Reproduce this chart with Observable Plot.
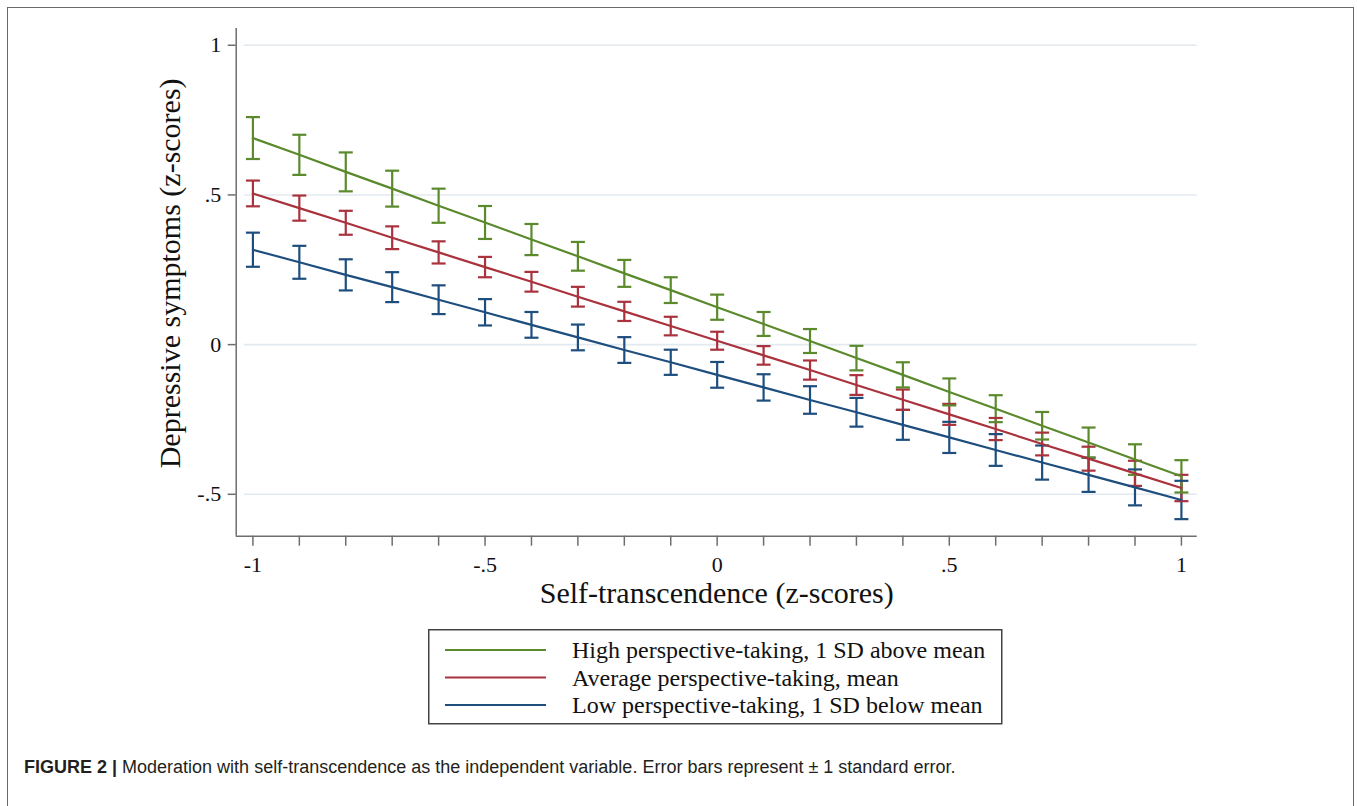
<!DOCTYPE html>
<html>
<head>
<meta charset="utf-8">
<script src="https://cdn.jsdelivr.net/npm/d3@7"></script>
<script src="https://cdn.jsdelivr.net/npm/@observablehq/plot@0.6"></script>
<style>
  html, body { margin: 0; padding: 0; background: #fff; width: 1357px; height: 806px; overflow: hidden; }
  #frame { position: absolute; left: 7px; top: 7px; width: 1347px; height: 900px; border: 1.5px solid #6a6a6a; box-sizing: border-box; }
  #chart { position: absolute; left: 0; top: 0; }
  #legend { position: absolute; left: 428px; top: 629px; }
  #caption { position: absolute; left: 24px; top: 757px; font-family: "Liberation Sans", Arial, sans-serif; font-size: 18px; line-height: 21px; color: #231f20; white-space: nowrap; }
  #caption b { font-weight: bold; }
</style>
</head>
<body>
<div id="frame"></div>
<div id="chart"></div>
<div id="legend"></div>
<div id="caption"><b>FIGURE 2 |</b> Moderation with self-transcendence as the independent variable. Error bars represent ± 1 standard error.</div>
<script>
// ---- data ----
const xValues = [-1, -0.9, -0.8, -0.7, -0.6, -0.5, -0.4, -0.3, -0.2, -0.1, 0, 0.1, 0.2, 0.3, 0.4, 0.5, 0.6, 0.7, 0.8, 0.9, 1];

const seriesNames = [
  "High perspective-taking, 1 SD above mean",
  "Average perspective-taking, mean",
  "Low perspective-taking, 1 SD below mean"
];
const seriesColors = ["#5b8a2d", "#a9323d", "#1e4e7e"];

const highMean = [0.690, 0.634, 0.577, 0.521, 0.464, 0.408, 0.351, 0.295, 0.238, 0.182, 0.125, 0.069, 0.012, -0.045, -0.101, -0.158, -0.214, -0.271, -0.327, -0.384, -0.440];
const highSE   = [0.070, 0.067, 0.065, 0.060, 0.057, 0.055, 0.052, 0.048, 0.045, 0.043, 0.042, 0.040, 0.040, 0.041, 0.042, 0.045, 0.045, 0.046, 0.050, 0.051, 0.054];

const avgMean  = [0.505, 0.456, 0.407, 0.357, 0.308, 0.259, 0.210, 0.160, 0.111, 0.062, 0.013, -0.036, -0.085, -0.135, -0.184, -0.233, -0.282, -0.332, -0.381, -0.430, -0.479];
const avgSE    = [0.043, 0.042, 0.040, 0.038, 0.037, 0.034, 0.033, 0.033, 0.032, 0.031, 0.030, 0.031, 0.032, 0.033, 0.034, 0.035, 0.037, 0.038, 0.040, 0.042, 0.044];

const lowMean  = [0.317, 0.275, 0.233, 0.192, 0.150, 0.108, 0.066, 0.024, -0.018, -0.059, -0.101, -0.143, -0.185, -0.226, -0.268, -0.310, -0.352, -0.394, -0.435, -0.477, -0.519];
const lowSE    = [0.057, 0.055, 0.052, 0.050, 0.048, 0.044, 0.043, 0.043, 0.043, 0.042, 0.043, 0.044, 0.046, 0.048, 0.050, 0.052, 0.053, 0.057, 0.057, 0.060, 0.064];

const yTicks = [1, 0.5, 0, -0.5];
const yTickLabels = ["1", ".5", "0", "-.5"];
const xMajorTicks = [-1, -0.5, 0, 0.5, 1];
const xMajorLabels = ["-1", "-.5", "0", ".5", "1"];
const xDomain = [-1.036, 1.034];
const yDomain = [-0.640, 1.056];

const xTitle = "Self-transcendence (z-scores)";
const yTitle = "Depressive symptoms (z-scores)";

// ---- build table ----
const means = [highMean, avgMean, lowMean];
const ses = [highSE, avgSE, lowSE];
const table = [];
seriesNames.forEach((s, k) => {
  xValues.forEach((x, i) => table.push({series: s, x, y: means[k][i], se: ses[k][i]}));
});
const drawOrder = [...table].reverse();

const capSymbol = {
  draw(context, size) {
    const r = Math.sqrt(size / Math.PI);
    context.moveTo(-r, 0);
    context.lineTo(r, 0);
  }
};

const serif = "'Liberation Serif', 'Times New Roman', serif";
const axisGray = "#6e6e6e";

const chart = Plot.plot({
  width: 1357,
  height: 620,
  marginLeft: 235.7,
  marginRight: 160.3,
  marginTop: 28,
  marginBottom: 84.3,
  x: {domain: xDomain},
  y: {domain: yDomain},
  color: {domain: seriesNames, range: seriesColors},
  style: {fontFamily: serif, background: "transparent", color: "#111"},
  marks: [
    Plot.ruleY(yTicks, {stroke: "#e2eaf0", strokeWidth: 1.6, insetLeft: 8}),
    Plot.ruleX([xDomain[0]], {stroke: axisGray, strokeWidth: 1.5}),
    Plot.ruleY([yDomain[0]], {stroke: axisGray, strokeWidth: 1.5}),
    Plot.axisY({ticks: yTicks, tickFormat: d => yTickLabels[yTicks.indexOf(d)], tickSize: 8, tickPadding: 7, fontSize: 22, stroke: axisGray, strokeWidth: 1.5, label: null}),
    Plot.axisX({ticks: xValues, tickFormat: () => "", tickSize: 10, stroke: axisGray, strokeWidth: 1.5, label: null}),
    Plot.axisX({ticks: xMajorTicks, tickFormat: d => xMajorLabels[xMajorTicks.indexOf(d)], tickSize: 0, tickPadding: 20, fontSize: 22, label: null}),
    Plot.ruleX(drawOrder, {x: "x", y1: d => d.y - d.se, y2: d => d.y + d.se, stroke: "series", strokeWidth: 2.2}),
    Plot.dot(drawOrder, {x: "x", y: d => d.y + d.se, symbol: capSymbol, r: 7, stroke: "series", fill: "none", strokeWidth: 2.2}),
    Plot.dot(drawOrder, {x: "x", y: d => d.y - d.se, symbol: capSymbol, r: 7, stroke: "series", fill: "none", strokeWidth: 2.2}),
    Plot.line(drawOrder, {x: "x", y: "y", z: "series", stroke: "series", strokeWidth: 2.2}),
    Plot.text([yTitle], {frameAnchor: "left", textAnchor: "middle", dx: -66, dy: -9, rotate: -90, fontSize: 30, fill: "#111"}),
    Plot.text([xTitle], {frameAnchor: "bottom", dy: 67, fontSize: 30, fill: "#111"})
  ]
});
document.getElementById("chart").appendChild(chart);

// ---- legend ----
const lg = d3.select("#legend").append("svg").attr("width", 575).attr("height", 96);
lg.append("rect").attr("x", 0.75).attr("y", 0.75).attr("width", 573).attr("height", 94)
  .attr("fill", "#fff").attr("stroke", "#444").attr("stroke-width", 1.5);
seriesNames.forEach((s, i) => {
  const y = 21 + i * 27.5;
  lg.append("line").attr("x1", 17).attr("x2", 118).attr("y1", y).attr("y2", y)
    .attr("stroke", seriesColors[i]).attr("stroke-width", 2.2);
  lg.append("text").attr("x", 144).attr("y", y).attr("dy", "0.35em")
    .attr("font-family", serif).attr("font-size", 24).attr("fill", "#111").text(s);
});
</script>
</body>
</html>
